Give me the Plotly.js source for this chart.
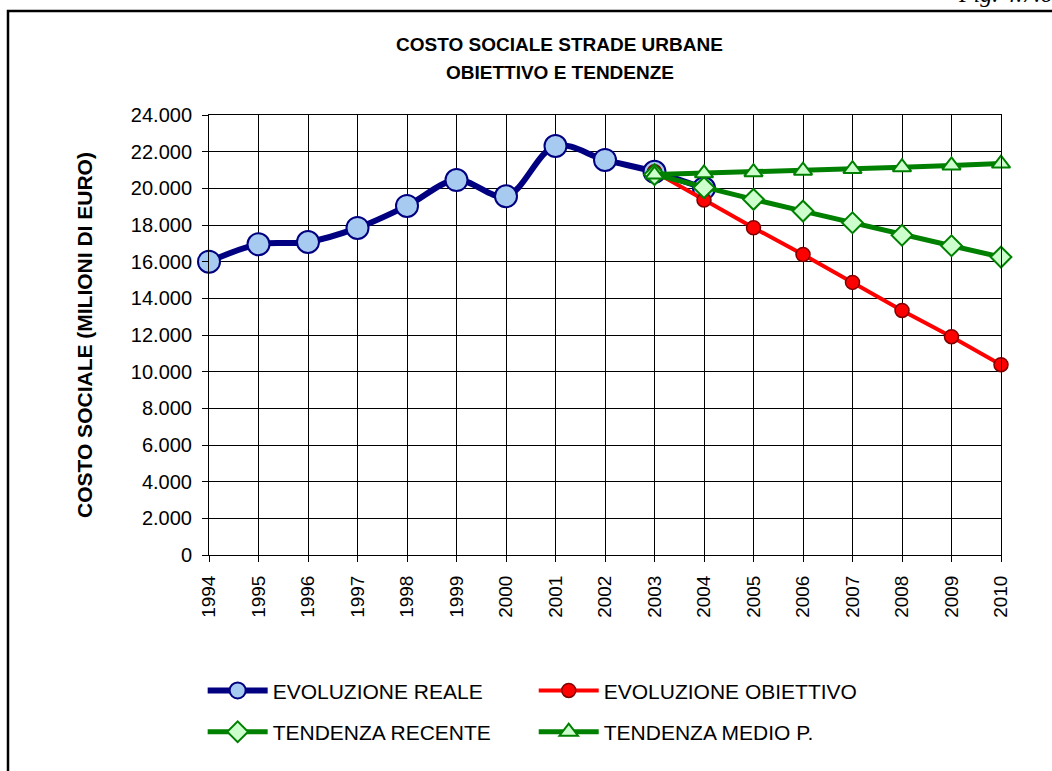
<!DOCTYPE html>
<html>
<head>
<meta charset="utf-8">
<script src="https://cdn.plot.ly/plotly-3.0.1.min.js"></script>
<style>html,body{margin:0;padding:0;background:#fff;}#chart{width:1052px;height:771px;}</style>
</head>
<body>
<div id="chart"></div>
<script>
var yearsReal = [1994,1995,1996,1997,1998,1999,2000,2001,2002,2003,2004];
var evoluzioneReale = [16000,16950,17070,17840,19040,20450,19570,22310,21550,20900,20000];
var yearsProj = [2003,2004,2005,2006,2007,2008,2009,2010];
var evoluzioneObiettivo = [20900,19360,17850,16390,14870,13340,11910,10380];
var tendenzaRecente = [20750,20040,19400,18760,18120,17440,16870,16250];
var tendenzaMedio = [20750,20820,20880,20960,21050,21150,21250,21350];
var yearTicks = [1994,1995,1996,1997,1998,1999,2000,2001,2002,2003,2004,2005,2006,2007,2008,2009,2010];
var seriesNames = ['EVOLUZIONE REALE','EVOLUZIONE OBIETTIVO','TENDENZA RECENTE','TENDENZA MEDIO P.'];

var F = 'Liberation Sans, Arial, sans-serif';

var traces = [
  {x: yearsReal, y: evoluzioneReale, name: seriesNames[0], type: 'scatter', mode: 'lines+markers',
   line: {color: '#000080', width: 6, shape: 'spline', smoothing: 1},
   marker: {symbol: 'circle', size: 22, color: '#A6CAF0', line: {color: '#000080', width: 2}},
   cliponaxis: false, legend: 'legend', legendgroup: 'a'},
  {x: yearsProj, y: evoluzioneObiettivo, name: seriesNames[1], type: 'scatter', mode: 'lines+markers',
   line: {color: '#FF0000', width: 4},
   marker: {symbol: 'circle', size: 14, color: '#FF0000', line: {color: '#800000', width: 1.5}},
   cliponaxis: false, legend: 'legend2', legendgroup: 'b'},
  {x: yearsProj, y: tendenzaRecente, name: seriesNames[2], type: 'scatter', mode: 'lines+markers',
   line: {color: '#008000', width: 5},
   marker: {symbol: 'diamond', size: 16, color: '#CCFFCC', line: {color: '#008000', width: 2}},
   cliponaxis: false, legend: 'legend', legendgroup: 'c'},
  {x: yearsProj, y: tendenzaMedio, name: seriesNames[3], type: 'scatter', mode: 'lines+markers',
   line: {color: '#008000', width: 5},
   marker: {symbol: 'triangle-up', size: 16, color: '#CCFFCC', line: {color: '#008000', width: 2}},
   cliponaxis: false, legend: 'legend2', legendgroup: 'd'}
];

var legendCommon = {
  orientation: 'v', traceorder: 'grouped', tracegroupgap: 11,
  font: {family: F, size: 21, color: '#000'},
  bgcolor: 'rgba(0,0,0,0)', borderwidth: 0, itemwidth: 60,
  yanchor: 'top', xanchor: 'left', y: -0.262
};

var layout = {
  width: 1052, height: 771,
  margin: {l: 209, r: 51, t: 115, b: 216},
  paper_bgcolor: '#fff', plot_bgcolor: '#fff',
  separators: ',.',
  showlegend: true,
  font: {family: F, color: '#000'},
  xaxis: {
    range: [1994, 2010], tickvals: yearTicks, ticktext: yearTicks.map(String),
    tickangle: -90, ticks: 'outside', ticklen: 6, tickcolor: '#000', tickwidth: 1,
    showgrid: true, gridcolor: '#000', gridwidth: 1,
    showline: true, linecolor: '#000', linewidth: 1, mirror: true,
    zeroline: false, tickfont: {family: F, size: 19, color: '#000'}, ticklabelstandoff: 6
  },
  yaxis: {
    range: [0, 24000], dtick: 2000, tick0: 0, tickformat: ',d',
    ticks: 'outside', ticklen: 6, tickcolor: '#000', tickwidth: 1,
    showgrid: true, gridcolor: '#000', gridwidth: 1,
    showline: true, linecolor: '#000', linewidth: 1, mirror: true,
    zeroline: false, tickfont: {family: F, size: 20, color: '#000'}, ticklabelstandoff: 6
  },
  legend: Object.assign({}, legendCommon, {x: -0.008}),
  legend2: Object.assign({}, legendCommon, {x: 0.41}),
  annotations: [
    {text: '<b>COSTO SOCIALE STRADE URBANE</b>', xref: 'paper', yref: 'paper', x: 0.443, y: (555-44)/440,
     xanchor: 'center', yanchor: 'middle', showarrow: false, font: {family: F, size: 19, color: '#000'}},
    {text: '<b>OBIETTIVO E TENDENZE</b>', xref: 'paper', yref: 'paper', x: 0.443, y: (555-72)/440,
     xanchor: 'center', yanchor: 'middle', showarrow: false, font: {family: F, size: 19, color: '#000'}},
    {text: '<b>COSTO SOCIALE (MILIONI DI EURO)</b>', xref: 'paper', yref: 'paper', x: (84-209)/792, y: 0.5,
     xanchor: 'center', yanchor: 'middle', textangle: -90, showarrow: false, font: {family: F, size: 21, color: '#000'}},
    {text: 'Fig. 4.7.6', xref: 'paper', yref: 'paper', x: (1054-209)/792, y: (555-9)/440,
     xanchor: 'right', yanchor: 'bottom', showarrow: false,
     font: {family: 'Liberation Serif, serif', size: 24, style: 'italic', color: '#000'}}
  ],
  shapes: [
    {type: 'path', xref: 'paper', yref: 'paper', layer: 'above',
     path: 'M ' + ((8-209)/792) + ',' + ((555-780)/440) + ' L ' + ((8-209)/792) + ',' + ((555-11)/440) + ' L ' + ((1060-209)/792) + ',' + ((555-11)/440),
     line: {color: '#000', width: 2.5}}
  ]
};

Plotly.newPlot('chart', traces, layout, {displayModeBar: false, staticPlot: true});
</script>
</body>
</html>
